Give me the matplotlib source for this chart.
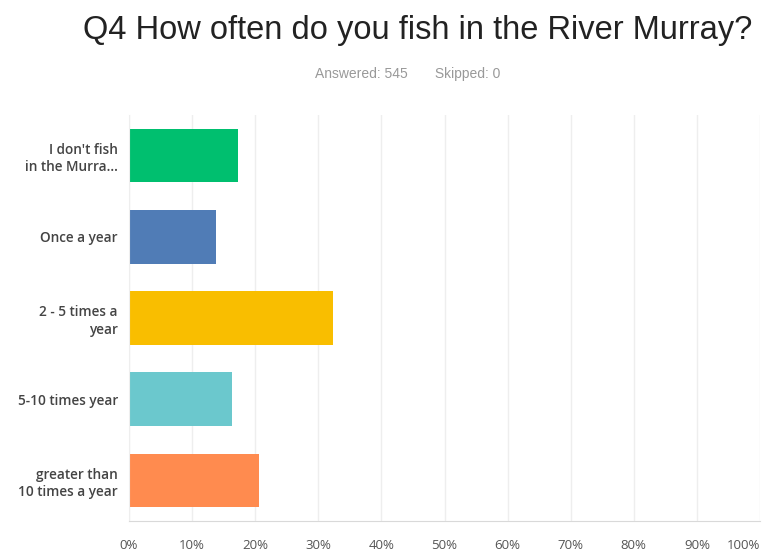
import numpy as np
import matplotlib.pyplot as plt

categories = ["I don't fish\nin the Murra...", "Once a year", "2 - 5 times a\nyear",
              "5-10 times year", "greater than\n10 times a year"]
values = [17.2, 13.8, 32.3, 16.3, 20.6]
colors = ["#00bf6f", "#507cb6", "#f9be00", "#6bc8cd", "#ff8b4f"]
ticks = np.arange(0, 101, 10)
tick_labels = [f"{t}%" for t in ticks]

fig = plt.figure(figsize=(7.71, 5.52), dpi=100)
ax = fig.add_axes([129 / 771, 1 - 521 / 552, (760 - 129) / 771, (521 - 115) / 552])

y = np.arange(len(categories))
ax.barh(y, values, height=0.66, color=colors, zorder=2)

ax.set_xlim(0, 100)
ax.set_ylim(len(categories) - 0.5, -0.5)
ax.set_xticks(ticks)
ax.set_xticklabels(tick_labels, fontsize=9.5, color="#555555", family="Open Sans")
ax.get_xticklabels()[-1].set_horizontalalignment("right")
ax.set_yticks(y)
ax.set_yticklabels(categories, fontsize=9.8, color="#444444", family="Open Sans",
                   fontweight="semibold", linespacing=1.3)
ax.tick_params(length=0, axis="both")
ax.tick_params(axis="x", pad=13)
ax.tick_params(axis="y", pad=8)
ax.grid(axis="x", color="#eeeeee", linewidth=1, zorder=0)

for side in ["top", "right"]:
    ax.spines[side].set_visible(False)
ax.spines["left"].set_color("#eeeeee")
ax.spines["bottom"].set_color("#d9d9d9")

fig.text(418 / 771, 1 - 31 / 552, "Q4 How often do you fish in the River Murray?",
         ha="center", va="center", fontsize=23.5, color="#222222", family="Liberation Sans")
fig.text(408 / 771, 1 - 74 / 552, "Answered: 545       Skipped: 0",
         ha="center", va="center", fontsize=10, color="#999999", family="Liberation Sans")

fig.savefig("out.png", dpi=100)
